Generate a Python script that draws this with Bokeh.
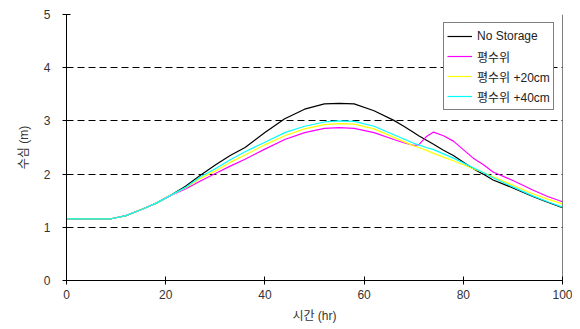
from bokeh.plotting import figure
from bokeh.models import Span, Legend, LegendItem, FixedTicker
from bokeh.embed import file_html
from bokeh.resources import INLINE

# time (hr)
x = [0, 5, 9, 12, 15, 18, 21, 24, 27, 30, 33, 36, 40, 44, 48, 52, 55, 58, 62, 66,
     68, 70, 71, 72.5, 74, 76, 78, 82, 84, 86, 90, 94, 97, 100]

no_storage = [1.16, 1.16, 1.16, 1.22, 1.33, 1.45, 1.60, 1.77, 1.98, 2.17, 2.35, 2.50,
              2.78, 3.04, 3.22, 3.32, 3.33, 3.32, 3.19, 3.01, 2.90, 2.78, 2.72, 2.64,
              2.56, 2.45, 2.35, 2.10, 2.00, 1.89, 1.74, 1.58, 1.47, 1.37]
plain = [1.16, 1.16, 1.16, 1.22, 1.33, 1.45, 1.60, 1.72, 1.87, 2.01, 2.15, 2.28,
         2.47, 2.65, 2.78, 2.86, 2.875, 2.86, 2.78, 2.65, 2.59, 2.54, 2.55, 2.70,
         2.79, 2.72, 2.62, 2.30, 2.18, 2.04, 1.88, 1.70, 1.58, 1.48]
plus20 = [1.16, 1.16, 1.16, 1.22, 1.33, 1.45, 1.60, 1.74, 1.92, 2.06, 2.22, 2.36,
          2.55, 2.72, 2.85, 2.93, 2.95, 2.94, 2.85, 2.69, 2.61, 2.53, 2.50, 2.45,
          2.39, 2.32, 2.25, 2.10, 2.03, 1.95, 1.79, 1.63, 1.53, 1.44]
plus40 = [1.16, 1.16, 1.16, 1.22, 1.33, 1.45, 1.60, 1.75, 1.95, 2.10, 2.27, 2.42,
          2.60, 2.78, 2.90, 2.98, 3.00, 2.99, 2.90, 2.74, 2.66, 2.58, 2.55, 2.50,
          2.46, 2.38, 2.30, 2.12, 2.03, 1.93, 1.76, 1.59, 1.48, 1.38]

series_names = ["No Storage", "평수위", "평수위 +20cm", "평수위 +40cm"]
series_colors = ["#000000", "#FF00FF", "#FFFF00", "#00FFFF"]
y_ticks = [0, 1, 2, 3, 4, 5]
x_ticks = [0, 20, 40, 60, 80, 100]

FONT = "Liberation Sans, 'Noto Sans CJK KR'"

p = figure(width=572, height=325, x_range=(0, 100), y_range=(0, 5),
           output_backend="svg", toolbar_location=None,
           min_border_left=66, min_border_right=10, min_border_top=14, min_border_bottom=42)
p.outline_line_color = None
p.background_fill_color = "white"
p.border_fill_color = "white"

renderers = []
for ys, c in zip([no_storage, plain, plus20, plus40], series_colors):
    r = p.line(x, ys, line_color=c, line_width=1.2)
    renderers.append(r)

# grid
p.xgrid.grid_line_color = None
p.ygrid.ticker = FixedTicker(ticks=y_ticks)
p.ygrid.grid_line_color = "black"
p.ygrid.grid_line_dash = "7 4"
p.ygrid.grid_line_width = 1

# right border
p.add_layout(Span(location=100, dimension="height", line_color="black", line_width=1))

for ax in (p.xaxis[0], p.yaxis[0]):
    ax.axis_line_color = "black"
    ax.major_tick_line_color = "black"
    ax.major_tick_in = 4
    ax.major_tick_out = 4
    ax.minor_tick_line_color = None
    ax.major_label_text_font = FONT
    ax.major_label_text_font_size = "12px"
    ax.major_label_text_color = "#333333"
    ax.axis_label_text_font = FONT
    ax.axis_label_text_font_size = "12px"
    ax.axis_label_text_font_style = "normal"
    ax.axis_label_text_color = "#333333"

p.xaxis[0].ticker = FixedTicker(ticks=x_ticks)
p.yaxis[0].ticker = FixedTicker(ticks=y_ticks)
p.xaxis[0].axis_label = "시간 (hr)"
p.yaxis[0].axis_label = "수심 (m)"
p.xaxis[0].major_label_standoff = 5
p.xaxis[0].axis_label_standoff = 7
p.yaxis[0].major_label_standoff = 12
p.yaxis[0].axis_label_standoff = 10

legend = Legend(items=[LegendItem(label=n, renderers=[r]) for n, r in zip(series_names, renderers)],
                location=(377, 170))
legend.border_line_color = "black"
legend.border_line_width = 1
legend.background_fill_color = "white"
legend.background_fill_alpha = 1
legend.padding = 3
legend.spacing = 0
legend.glyph_width = 25
legend.glyph_height = 20
legend.label_height = 20
legend.label_standoff = 5
legend.label_text_font = FONT
legend.label_text_font_size = "12px"
legend.label_text_color = "#222222"
legend.margin = 0
p.add_layout(legend, "center")

open("out.html", "w").write(file_html(p, INLINE))
